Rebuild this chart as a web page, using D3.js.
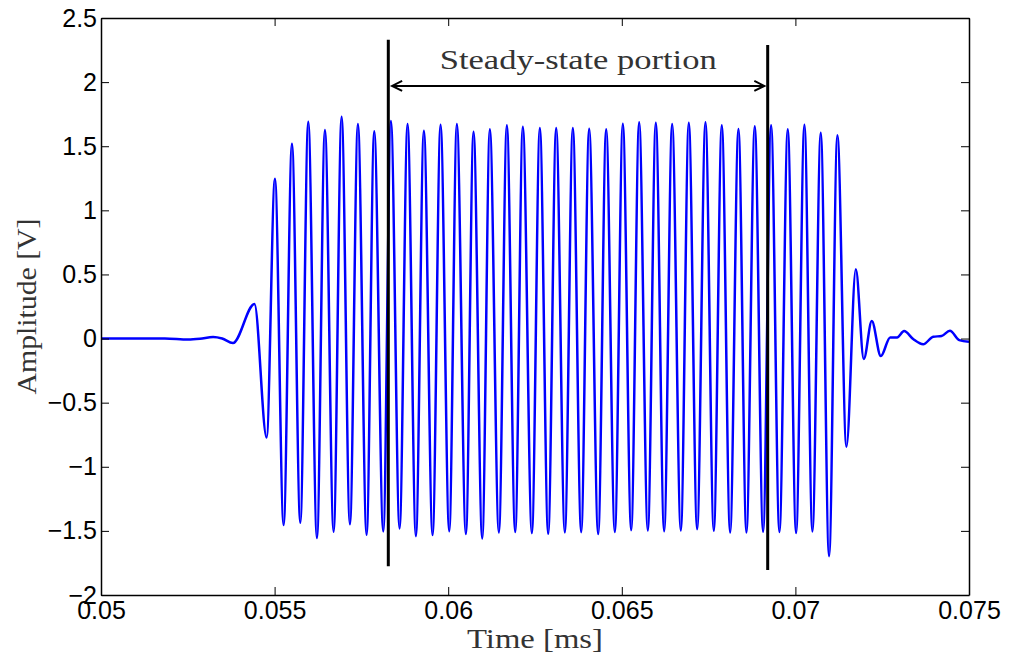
<!DOCTYPE html>
<html>
<head>
<meta charset="utf-8">
<script src="https://cdn.jsdelivr.net/npm/d3@7"></script>
<style>
  body { margin: 0; background: #fff; }
  svg { display: block; }
  .tick text { font-family: "Liberation Sans", Arial, sans-serif; font-size: 25px; fill: #000; }
  .serif { font-family: "Liberation Serif", "Times New Roman", serif; fill: #333; }
</style>
</head>
<body>
<svg id="chart"></svg>
<script>
// extrema of the burst (time in ms, amplitude in V)
const timeMs = [
  0.05, 0.05112, 0.05184, 0.05251, 0.05285, 0.05323, 0.05349, 0.05380,
  0.05442, 0.05477, 0.05501, 0.05526, 0.05550, 0.05574, 0.05597, 0.05622,
  0.05645, 0.05670, 0.05693, 0.05717, 0.05740, 0.05765, 0.05787, 0.05813,
  0.05835, 0.05860, 0.05883, 0.05907, 0.05930, 0.05955, 0.05978, 0.06003,
  0.06025, 0.06051, 0.06073, 0.06098, 0.06120, 0.06146, 0.06169, 0.06193,
  0.06215, 0.06241, 0.06264, 0.06288, 0.06311, 0.06336, 0.06359, 0.06383,
  0.06406, 0.06432, 0.06455, 0.06480, 0.06503, 0.06527, 0.06550, 0.06575,
  0.06598, 0.06622, 0.06645, 0.06670, 0.06693, 0.06717, 0.06741, 0.06765,
  0.06788, 0.06812, 0.06836, 0.06859, 0.06883, 0.06907, 0.06930, 0.06954,
  0.06978, 0.07002, 0.07026, 0.07049, 0.07073, 0.07097, 0.07121, 0.07147,
  0.07174, 0.07197, 0.07220, 0.07246, 0.07273, 0.07293, 0.07313, 0.07340,
  0.07368, 0.07397, 0.07421, 0.07445, 0.07472, 0.075
];
const amplitudeV = [
  0, 0, 0, -0.008, -0.002, 0.012, 0, -0.035,
  0.27, -0.771, 1.246, -1.455, 1.52, -1.437, 1.69, -1.556,
  1.626, -1.507, 1.73, -1.449, 1.673, -1.53, 1.616, -1.504,
  1.697, -1.481, 1.673, -1.541, 1.621, -1.533, 1.668, -1.502,
  1.673, -1.525, 1.613, -1.559, 1.632, -1.512, 1.663, -1.509,
  1.652, -1.517, 1.642, -1.523, 1.642, -1.512, 1.642, -1.51,
  1.637, -1.525, 1.632, -1.509, 1.676, -1.494, 1.686, -1.496,
  1.683, -1.502, 1.673, -1.496, 1.683, -1.486, 1.686, -1.499,
  1.663, -1.512, 1.634, -1.512, 1.655, -1.507, 1.663, -1.509,
  1.632, -1.517, 1.668, -1.504, 1.605, -1.697, 1.585, -0.844,
  0.54, -0.16, 0.137, -0.137, 0.009, 0.009, 0.058, -0.006,
  -0.045, 0.014, 0.02, 0.061, -0.012, -0.025
];

const xTicks = [0.05, 0.055, 0.06, 0.065, 0.07, 0.075];
const yTicks = [-2, -1.5, -1, -0.5, 0, 0.5, 1, 1.5, 2, 2.5];

// steady-state markers: [time, bottom, top]
const markerLeft = [0.058275, -1.775, 2.33];
const markerRight = [0.069202, -1.806, 2.29];
const arrowSpan = [0.058385, 0.069105];
const arrowLevel = 1.97;
const annotation = "Steady-state portion";

const W = 1012, H = 662;
const plot = { left: 101, right: 969, top: 18, bottom: 595 };

const svg = d3.select("#chart").attr("width", W).attr("height", H);

const x = d3.scaleLinear().domain([0.05, 0.075]).range([plot.left, plot.right]);
const y = d3.scaleLinear().domain([-2, 2.5]).range([plot.bottom, plot.top]);

const data = timeMs.map((t, i) => ({ t: t, v: amplitudeV[i] }));

// signal
svg.append("path")
  .datum(data)
  .attr("fill", "none")
  .attr("stroke", "#0000ff")
  .attr("stroke-width", 2.5)
  .attr("stroke-linejoin", "round")
  .attr("d", d3.line().x(d => x(d.t)).y(d => y(d.v)).curve(d3.curveMonotoneX));

// axes, ticks pointing inward like matlab
const fmtX = d => String(+d.toFixed(3));
const fmtY = d3.format("~g");

svg.append("g").attr("transform", `translate(0,${plot.bottom})`)
  .call(d3.axisBottom(x).tickValues(xTicks).tickFormat(fmtX).tickSizeInner(-8).tickSizeOuter(0).tickPadding(6));
svg.append("g").attr("transform", `translate(0,${plot.top})`)
  .call(d3.axisTop(x).tickValues(xTicks).tickFormat("").tickSizeInner(-8).tickSizeOuter(0));
svg.append("g").attr("transform", `translate(${plot.left},0)`)
  .call(d3.axisLeft(y).tickValues(yTicks).tickFormat(fmtY).tickSizeInner(-8).tickSizeOuter(0).tickPadding(4));
svg.append("g").attr("transform", `translate(${plot.right},0)`)
  .call(d3.axisRight(y).tickValues(yTicks).tickFormat("").tickSizeInner(-8).tickSizeOuter(0));

svg.selectAll(".domain").attr("stroke", "#000").attr("stroke-width", 1.5);
svg.selectAll(".tick line").attr("stroke", "#000").attr("stroke-width", 1);

// steady-state markers
[markerLeft, markerRight].forEach(m => {
  svg.append("line")
    .attr("x1", x(m[0])).attr("x2", x(m[0]))
    .attr("y1", y(m[1])).attr("y2", y(m[2]))
    .attr("stroke", "#000").attr("stroke-width", 3);
});

// double-headed arrow
const ay = y(arrowLevel), ax1 = x(arrowSpan[0]), ax2 = x(arrowSpan[1]);
svg.append("line")
  .attr("x1", ax1).attr("x2", ax2).attr("y1", ay).attr("y2", ay)
  .attr("stroke", "#000").attr("stroke-width", 2);
svg.append("path")
  .attr("d", `M${ax1 + 10},${ay - 5}L${ax1},${ay}L${ax1 + 10},${ay + 5}M${ax2 - 10},${ay - 5}L${ax2},${ay}L${ax2 - 10},${ay + 5}`)
  .attr("fill", "none").attr("stroke", "#000").attr("stroke-width", 2);

svg.append("text").attr("class", "serif")
  .attr("x", (ax1 + ax2) / 2).attr("y", 69)
  .attr("text-anchor", "middle").attr("font-size", 28)
  .attr("textLength", 277).attr("lengthAdjust", "spacingAndGlyphs")
  .text(annotation);

// axis titles
svg.append("text").attr("class", "serif")
  .attr("x", (plot.left + plot.right) / 2).attr("y", 648)
  .attr("text-anchor", "middle").attr("font-size", 28)
  .attr("textLength", 136).attr("lengthAdjust", "spacingAndGlyphs")
  .text("Time [ms]");

svg.append("text").attr("class", "serif")
  .attr("transform", `translate(36,${(plot.top + plot.bottom) / 2}) rotate(-90)`)
  .attr("text-anchor", "middle").attr("font-size", 28)
  .attr("textLength", 176).attr("lengthAdjust", "spacingAndGlyphs")
  .text("Amplitude [V]");
</script>
</body>
</html>
